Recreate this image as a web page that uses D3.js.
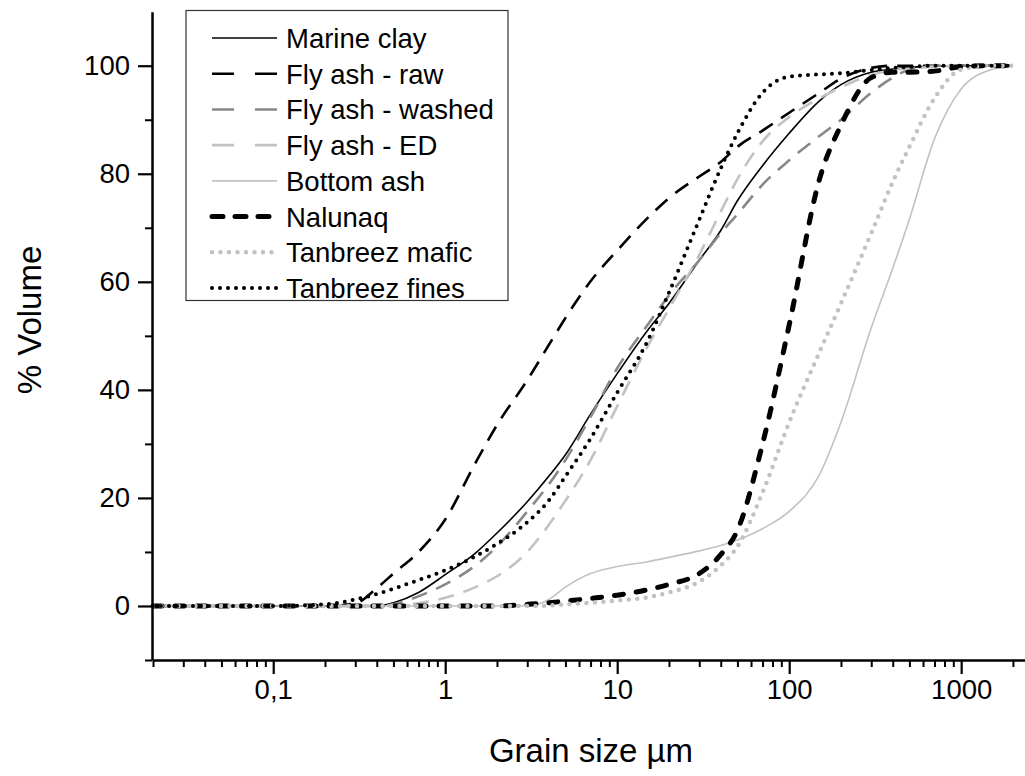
<!DOCTYPE html>
<html>
<head>
<meta charset="utf-8">
<script src="https://cdn.jsdelivr.net/npm/d3@7"></script>
<style>
  html, body { margin: 0; padding: 0; background: #fff; }
  svg { display: block; }
  text { font-family: "Liberation Sans", Arial, sans-serif; fill: #000; }
</style>
</head>
<body>
<svg id="chart" width="1025" height="776"></svg>
<script>
// ---- data (grain size in µm, cumulative % volume) ----
const sizes = [0.02, 0.05, 0.1, 0.2, 0.3, 0.4, 0.5, 0.7, 1, 1.5, 2, 3, 4, 5, 7, 10, 15, 20, 30, 40, 50, 70, 100, 150, 200, 300, 400, 500, 700, 1000, 1500, 2000];

const marineClay    = [0, 0, 0, 0, 0, 0, 0.6, 2.5, 5.8, 9.8, 13.5, 19.3, 24, 28, 35.5, 43, 51, 56, 64, 69.5, 75, 81.5, 87.5, 93.5, 96.5, 98.8, 99.4, 99.7, 99.9, 100, 100, 100];
const flyAshRaw     = [0, 0, 0, 0, 0.5, 3.3, 6, 10, 16, 26.5, 33.5, 41.8, 48.3, 53.3, 60.1, 65.8, 71.8, 75.5, 79.5, 82.2, 85, 88, 91.3, 95, 97.6, 99.6, 100, 100, 100, 100, 100, 100];
const flyAshWashed  = [0, 0, 0, 0, 0, 0, 0.3, 1.8, 4, 7.5, 11, 17.5, 22.5, 27, 35, 44, 52, 57.5, 64, 69, 72.5, 78, 82.5, 87, 90, 95, 97.8, 99.3, 100, 100, 100, 100];
const flyAshED      = [0, 0, 0, 0, 0, 0, 0, 0.5, 1.5, 3.5, 5.5, 10, 15, 19.5, 27, 37, 48, 55, 65, 73, 79, 86, 90.5, 94, 96, 98.3, 99.2, 99.5, 99.8, 100, 100, 100];
const bottomAsh     = [0, 0, 0, 0, 0, 0, 0, 0, 0, 0, 0, 0, 1.2, 3.5, 6, 7.3, 8.2, 9, 10.2, 11.2, 12.2, 14.3, 17.5, 24.3, 34, 51.5, 62.5, 71.6, 86.5, 95.7, 99.3, 100];
const nalunaq       = [0, 0, 0, 0, 0, 0, 0, 0, 0, 0, 0, 0.3, 0.6, 0.9, 1.4, 2, 3, 4, 6, 9.5, 14, 30, 52, 79, 89, 97.8, 98.8, 98.8, 99, 99.8, 100, 100];
const tanbreezMafic = [0, 0, 0, 0, 0, 0, 0, 0, 0, 0, 0, 0, 0.1, 0.3, 0.6, 1, 1.6, 2.5, 4.5, 7.5, 11, 21, 34, 47, 56, 69, 78.5, 85, 94, 99.3, 100, 100];
const tanbreezFines = [0, 0, 0, 0.3, 1.2, 2.2, 3.2, 4.8, 6.6, 9.2, 11.5, 15.5, 19.5, 24, 31, 39.5, 49, 58, 71.5, 81, 87.5, 95, 98, 98.4, 98.6, 99.2, 99.6, 99.8, 100, 100, 100, 100];

const seriesNames = ["Marine clay", "Fly ash - raw", "Fly ash - washed", "Fly ash - ED", "Bottom ash", "Nalunaq", "Tanbreez mafic", "Tanbreez fines"];
const seriesValues = [marineClay, flyAshRaw, flyAshWashed, flyAshED, bottomAsh, nalunaq, tanbreezMafic, tanbreezFines];

const xMajorTicks = [0.1, 1, 10, 100, 1000];
const xTickLabels = ["0,1", "1", "10", "100", "1000"];
const yMajorTicks = [0, 20, 40, 60, 80, 100];
const yMinorTicks = [-10, 10, 30, 50, 70, 90];

const xTitle = "Grain size \u00b5m";
const yTitle = "% Volume";

// ---- styles ----
const styles = [
  { color: "#000",    width: 1.6, dash: null,    cap: "butt" },
  { color: "#000",    width: 2.6, dash: "16,10", cap: "butt" },
  { color: "#888",    width: 2.6, dash: "16,10", cap: "butt" },
  { color: "#c2c2c2", width: 2.6, dash: "16,10", cap: "butt" },
  { color: "#c2c2c2", width: 1.6, dash: null,    cap: "butt" },
  { color: "#000",    width: 5,   dash: "9,13",  cap: "round" },
  { color: "#c2c2c2", width: 4.5, dash: "0,8.5", cap: "round" },
  { color: "#000",    width: 4,   dash: "0,8",   cap: "round" }
];

// ---- layout ----
const svg = d3.select("#chart");
const x = d3.scaleLog().domain([0.02, 2350]).range([153, 1025]);
const y = d3.scaleLinear().domain([-10, 110]).range([660, 11.7]);

// minor x ticks
const xMinor = [];
for (let e = -2; e <= 3; e++) {
  for (let m = 2; m <= 9; m++) {
    const v = m * Math.pow(10, e);
    if (v >= 0.02 && v <= 2350) xMinor.push(v);
  }
}

// ---- curves ----
const line = d3.line()
  .x(d => x(d[0]))
  .y(d => y(d[1]))
  .curve(d3.curveMonotoneX);

const gCurves = svg.append("g");
seriesValues.forEach((vals, i) => {
  const st = styles[i];
  const pts = sizes.map((s, j) => [s, vals[j]]);
  gCurves.append("path")
    .attr("d", line(pts))
    .attr("fill", "none")
    .attr("stroke", st.color)
    .attr("stroke-width", st.width)
    .attr("stroke-dasharray", st.dash)
    .attr("stroke-linecap", st.cap)
    .attr("stroke-linejoin", "round");
});

// ---- axes ----
const xAxisMajor = d3.axisBottom(x).tickValues(xMajorTicks)
  .tickFormat((d, i) => xTickLabels[i]).tickSize(14).tickSizeOuter(0).tickPadding(5);
const gx = svg.append("g").attr("transform", "translate(0,660)").call(xAxisMajor);
gx.select(".domain").attr("stroke-width", 2.5);
gx.selectAll(".tick line").attr("stroke-width", 2.2);
gx.selectAll("text").attr("font-size", 27.5).attr("font-family", "Liberation Sans, Arial, sans-serif");

const xAxisMinor = d3.axisBottom(x).tickValues(xMinor).tickFormat("").tickSize(7).tickSizeOuter(0);
const gxm = svg.append("g").attr("transform", "translate(0,660)").call(xAxisMinor);
gxm.select(".domain").remove();
gxm.selectAll(".tick line").attr("stroke-width", 2);

const yAxisMajor = d3.axisLeft(y).tickValues(yMajorTicks).tickSize(14).tickSizeOuter(0).tickPadding(8);
const gy = svg.append("g").attr("transform", "translate(152,0)").call(yAxisMajor);
gy.select(".domain").attr("stroke-width", 2.5);
gy.selectAll(".tick line").attr("stroke-width", 2.2);
gy.selectAll("text").attr("font-size", 27.5).attr("font-family", "Liberation Sans, Arial, sans-serif");

const yAxisMinor = d3.axisLeft(y).tickValues(yMinorTicks).tickFormat("").tickSize(7).tickSizeOuter(0);
const gym = svg.append("g").attr("transform", "translate(152,0)").call(yAxisMinor);
gym.select(".domain").remove();
gym.selectAll(".tick line").attr("stroke-width", 2);

// axis titles
svg.append("text")
  .attr("x", 591).attr("y", 762)
  .attr("text-anchor", "middle")
  .attr("font-size", 33)
  .text(xTitle);

svg.append("text")
  .attr("transform", "translate(41,320) rotate(-90)")
  .attr("text-anchor", "middle")
  .attr("font-size", 33)
  .text(yTitle);

// ---- legend ----
const lg = svg.append("g");
lg.append("rect")
  .attr("x", 186).attr("y", 10.5).attr("width", 322).attr("height", 290)
  .attr("fill", "#fff").attr("stroke", "#333").attr("stroke-width", 1.2);

const rowY = d3.scaleLinear().domain([0, 7]).range([38, 288]);
seriesNames.forEach((name, i) => {
  const st = styles[i];
  const yy = rowY(i);
  lg.append("line")
    .attr("x1", 212).attr("x2", 277).attr("y1", yy).attr("y2", yy)
    .attr("stroke", st.color)
    .attr("stroke-width", st.width)
    .attr("stroke-dasharray", st.dash ? (i === 5 ? "11,12" : (st.dash === "16,10" ? "22,21" : st.dash)) : null)
    .attr("stroke-linecap", st.cap);
  lg.append("text")
    .attr("x", 286).attr("y", yy + 10)
    .attr("font-size", 27.5)
    .text(name);
});
</script>
</body>
</html>
